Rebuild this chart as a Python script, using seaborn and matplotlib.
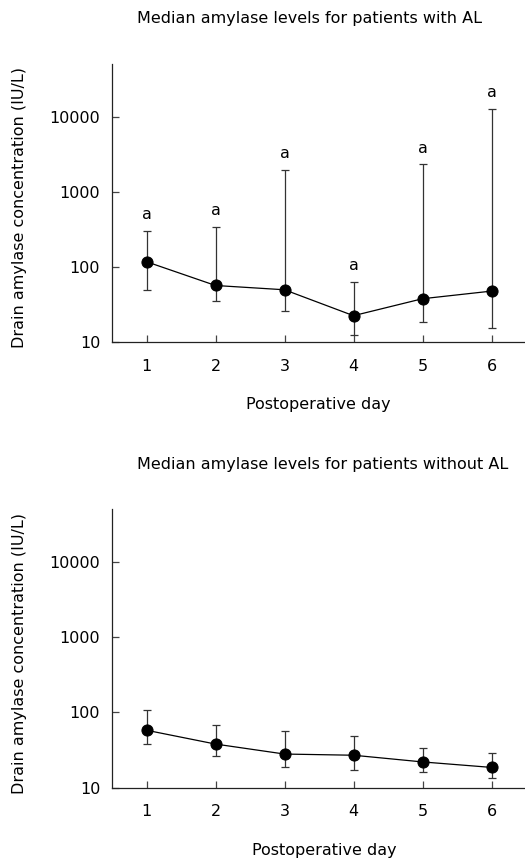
import numpy as np
import pandas as pd
import seaborn as sns
import matplotlib
matplotlib.use("Agg")
import matplotlib.pyplot as plt
from matplotlib.ticker import FixedLocator, NullLocator

# Postoperative days
days = [1, 2, 3, 4, 5, 6]

# Patients with AL: median and range (IU/L)
al_median = [118, 57, 50, 22.6, 38, 48]
al_low = [50, 35, 26, 12.5, 18.6, 15.6]
al_high = [300, 340, 1960, 64, 2330, 12900]
al_marks = ["a", "a", "a", "a", "a", "a"]

# Patients without AL
no_median = [58, 38, 28, 27, 22, 18.6]
no_low = [38, 26.6, 18.8, 17, 16, 13.4]
no_high = [108, 69, 57, 48, 34, 29]

titles = ["Median amylase levels for patients with AL",
          "Median amylase levels for patients without AL"]
y_ticks = [10, 100, 1000, 10000]
y_ticklabels = ["10", "100", "1000", "10000"]

sns.set_style("ticks")
plt.rcParams["font.family"] = ["DejaVu Sans"]
plt.rcParams["text.color"] = "black"
plt.rcParams["xtick.labelcolor"] = "black"
plt.rcParams["ytick.labelcolor"] = "black"
FS = 11.5

fig = plt.figure(figsize=(5.25, 8.59), dpi=100)
W, H = 525, 859


def px_axes(left, top, right, bottom):
    return fig.add_axes([left / W, 1 - bottom / H, (right - left) / W, (bottom - top) / H])


def draw_panel(ax, median, low, high, title, title_y, marks=None):
    df = pd.DataFrame({"day": days, "median": median, "low": low, "high": high})
    med = df["median"].to_numpy()
    yerr = [med - df["low"].to_numpy(), df["high"].to_numpy() - med]
    ax.errorbar(df["day"], med, yerr=yerr, fmt="none", ecolor="#333333",
                elinewidth=0.9, capsize=3, capthick=0.9, zorder=2)
    sns.lineplot(data=df, x="day", y="median", ax=ax, color="black", lw=0.9,
                 marker="o", markersize=8, markeredgecolor="black", zorder=3)
    ax.set_yscale("log")
    ax.set_ylim(10, 50000)
    ax.set_xlim(0.5, 6.5)
    ax.yaxis.set_major_locator(FixedLocator(y_ticks))
    ax.yaxis.set_minor_locator(NullLocator())
    ax.set_yticklabels(y_ticklabels)
    ax.set_xticks(days)
    ax.set_xlabel("")
    ax.set_ylabel("")
    for s in ["top", "right"]:
        ax.spines[s].set_visible(False)
    for s in ["left", "bottom"]:
        ax.spines[s].set_color("#222222")
        ax.spines[s].set_linewidth(0.9)
    ax.tick_params(axis="both", direction="in", length=5, width=0.9, color="#444444",
                   labelsize=FS, labelcolor="black")
    ax.tick_params(axis="y", pad=8.5)
    ax.tick_params(axis="x", pad=12)
    if marks is not None:
        for d, h, m in zip(days, high, marks):
            ax.annotate(m, (d, h), xytext=(0, 8.5), textcoords="offset points",
                        ha="center", va="baseline", fontsize=FS)
    fig.text(137 / W, 1 - title_y / H, title, ha="left", va="center", fontsize=FS)


ax1 = px_axes(112, 64.3, 526, 342.3)
draw_panel(ax1, al_median, al_low, al_high, titles[0], 19, marks=al_marks)
fig.text(20 / W, 1 - 207 / H, "Drain amylase concentration (IU/L)", rotation=90,
         ha="center", va="center", fontsize=FS)
fig.text(318 / W, 1 - 405 / H, "Postoperative day", ha="center", va="center", fontsize=FS)

ax2 = px_axes(112, 509.3, 526, 787.7)
draw_panel(ax2, no_median, no_low, no_high, titles[1], 465)
fig.text(20 / W, 1 - 654 / H, "Drain amylase concentration (IU/L)", rotation=90,
         ha="center", va="center", fontsize=FS)
fig.text(324 / W, 1 - 850 / H, "Postoperative day", ha="center", va="center", fontsize=FS)

fig.savefig("out.png", dpi=100, facecolor="white")
